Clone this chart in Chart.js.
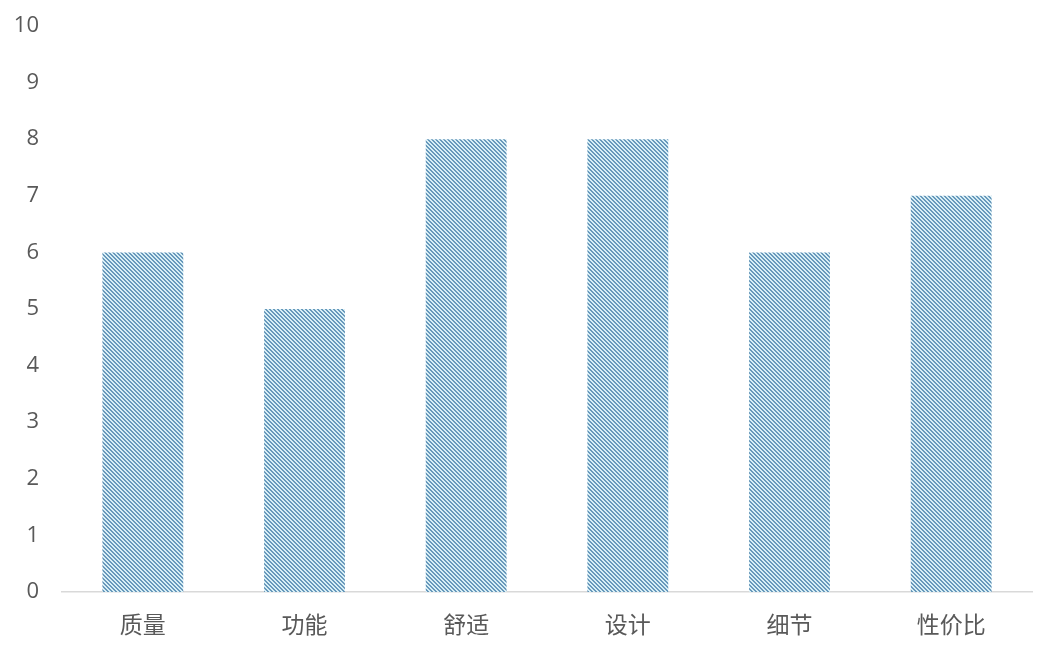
<!DOCTYPE html>
<html>
<head>
<meta charset="utf-8">
<script src="https://cdn.jsdelivr.net/npm/chart.js@4"></script>
<style>
  html, body { margin: 0; padding: 0; background: #fff; }
  #wrap { width: 1056px; height: 655px; }
</style>
</head>
<body>
<div id="wrap"><canvas id="chart"></canvas></div>
<script>
// chart data
const categories = ["质量", "功能", "舒适", "设计", "细节", "性价比"];
const scores = [6, 5, 8, 8, 6, 7];
const yTicks = [0, 1, 2, 3, 4, 5, 6, 7, 8, 9, 10];

// wide downward diagonal hatch, like the excel pattern fill
const makeHatch = () => {
  const tile = document.createElement("canvas");
  tile.width = 4;
  tile.height = 4;
  const t = tile.getContext("2d");
  t.fillStyle = "#d8eff6";
  t.fillRect(0, 0, 4, 4);
  t.fillStyle = "#6898bb";
  for (let y = 0; y < 4; y++) {
    for (let x = 0; x < 4; x++) {
      const d = ((x - y) % 4 + 4) % 4;
      if (d === 0 || d === 1) t.fillRect(x, y, 1, 1);
    }
  }
  return t.createPattern(tile, "repeat");
};

const ctx = document.getElementById("chart").getContext("2d");
const hatch = makeHatch();

new Chart(ctx, {
  type: "bar",
  data: {
    labels: categories,
    datasets: [{
      data: scores,
      backgroundColor: hatch,
      borderWidth: 0,
      barPercentage: 0.5,
      categoryPercentage: 1.0,
    }],
  },
  options: {
    responsive: true,
    maintainAspectRatio: false,
    animation: false,
    layout: { padding: { top: 26, right: 24, left: 0, bottom: 0 } },
    plugins: {
      legend: { display: false },
      tooltip: { enabled: false },
    },
    scales: {
      x: {
        grid: { display: false, drawTicks: false },
        border: { display: true, color: "#d9d9d9", width: 1.5 },
        ticks: {
          color: "#595959",
          padding: 18,
          font: { family: "'Noto Sans CJK SC', sans-serif", size: 23 },
        },
        afterFit: (s) => {
          s.height = 63;
          s.paddingLeft = 0;
          s.paddingRight = 0;
        },
      },
      y: {
        min: 0,
        max: 10,
        afterBuildTicks: (s) => { s.ticks = yTicks.map((v) => ({ value: v })); },
        grid: { display: false, drawTicks: false },
        border: { display: false },
        ticks: {
          color: "#595959",
          padding: 23,
          font: { family: "'Open Sans', sans-serif", size: 22 },
        },
        afterFit: (s) => {
          s.width = 62;
          s.paddingTop = 0;
          s.paddingBottom = 0;
        },
      },
    },
  },
});
</script>
</body>
</html>
